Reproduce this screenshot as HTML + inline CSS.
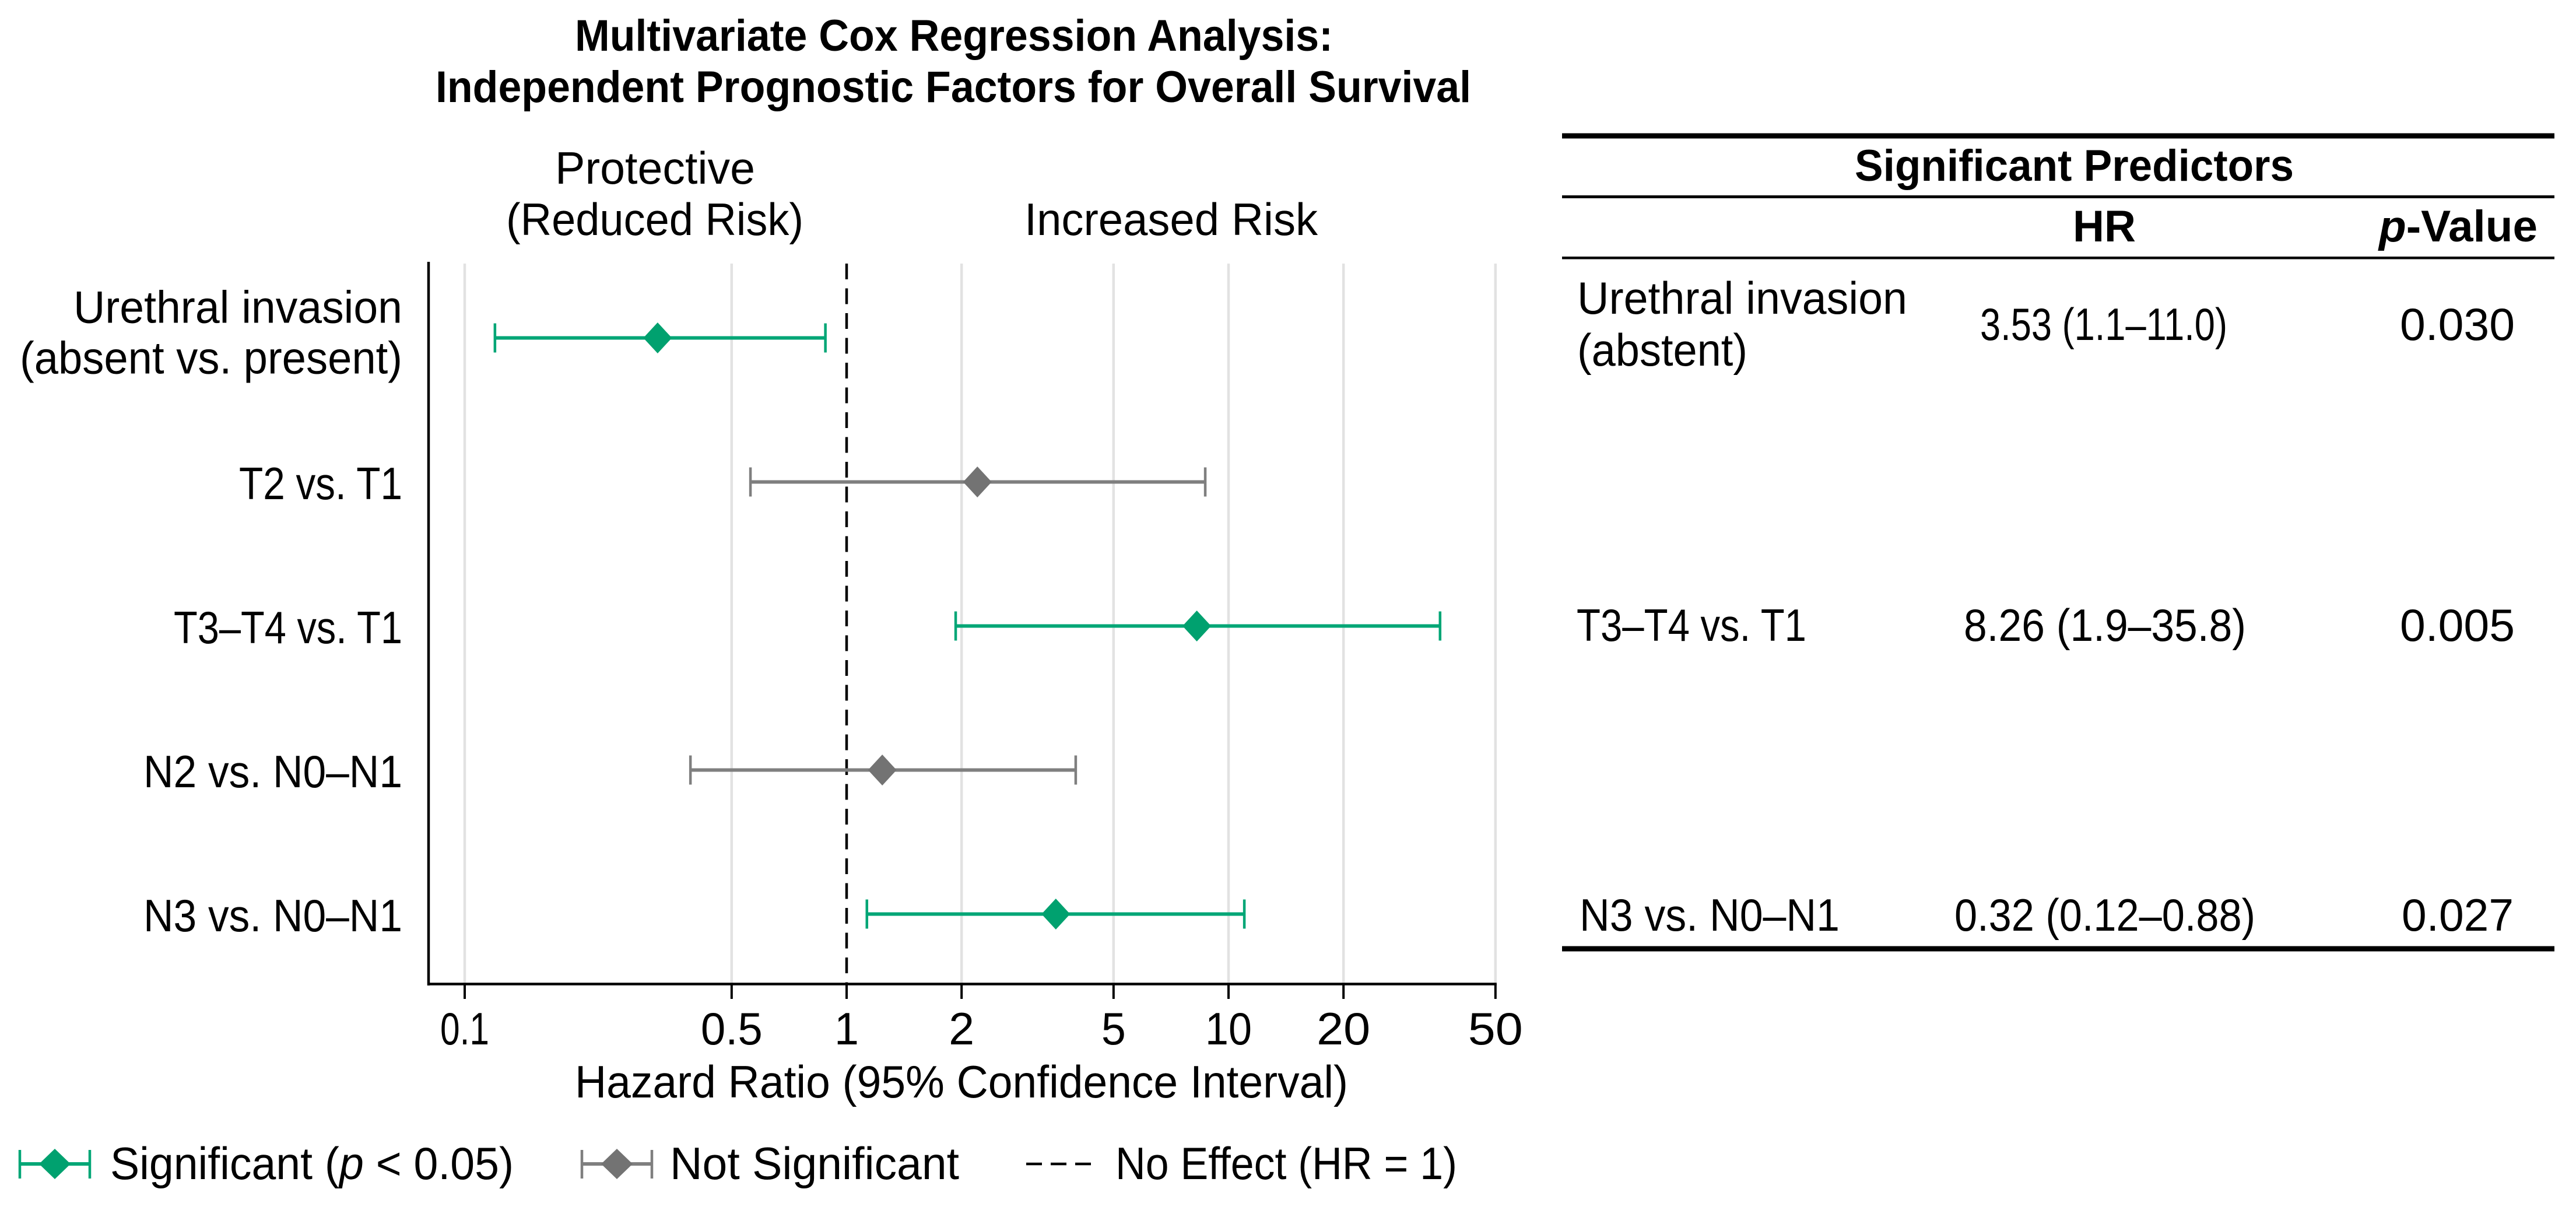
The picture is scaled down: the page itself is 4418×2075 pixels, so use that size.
<!DOCTYPE html>
<html lang="en">
<head>
<meta charset="utf-8">
<title>Multivariate Cox Regression Analysis</title>
<style>
html,body{margin:0;padding:0;background:#fff;width:4418px;height:2075px;overflow:hidden}
svg{display:block}
text{font-family:"Liberation Sans",Arial,sans-serif;fill:#000;font-size:78px;font-kerning:normal}
.b{font-weight:700;font-size:76px}
</style>
</head>
<body>
<svg id="chart" xmlns="http://www.w3.org/2000/svg" width="4418" height="2075" viewBox="0 0 4418 2075">
  <rect x="0" y="0" width="4418" height="2075" fill="#fff"/>
  <text class="b" x="986" y="87" textLength="1300" lengthAdjust="spacingAndGlyphs">Multivariate Cox Regression Analysis:</text>
  <text class="b" x="747" y="175" textLength="1776" lengthAdjust="spacingAndGlyphs">Independent Prognostic Factors for Overall Survival</text>
  <text x="952" y="315" textLength="343" lengthAdjust="spacingAndGlyphs">Protective</text>
  <text x="868" y="403" textLength="510" lengthAdjust="spacingAndGlyphs">(Reduced Risk)</text>
  <text x="1757" y="403" textLength="503" lengthAdjust="spacingAndGlyphs">Increased Risk</text>

  <g id="grid"></g>
  <g id="refline"></g>
  <g id="marks"></g>
  <g id="axes"></g>
  <g id="ylabels"></g>

  <text x="986" y="1882" textLength="1326" lengthAdjust="spacingAndGlyphs">Hazard Ratio (95% Confidence Interval)</text>

  <g>
    <g>
      <line x1="32" y1="1996" x2="156" y2="1996" stroke="#00a676" stroke-width="6"/>
      <line x1="34" y1="1972" x2="34" y2="2021" stroke="#00a676" stroke-width="4.5"/>
      <line x1="154" y1="1972" x2="154" y2="2021" stroke="#00a676" stroke-width="4.5"/>
      <polygon points="94,1970 121,1996 94,2022 67,1996" fill="#00a16f"/>
      <text x="189" y="2022" textLength="692" lengthAdjust="spacingAndGlyphs">Significant (<tspan font-style="italic">p</tspan> &lt; 0.05)</text>
    </g>
    <g>
      <line x1="996" y1="1996" x2="1120" y2="1996" stroke="#7f7f7f" stroke-width="6"/>
      <line x1="998" y1="1972" x2="998" y2="2021" stroke="#7f7f7f" stroke-width="4.5"/>
      <line x1="1118" y1="1972" x2="1118" y2="2021" stroke="#7f7f7f" stroke-width="4.5"/>
      <polygon points="1058,1970 1085,1996 1058,2022 1031,1996" fill="#737373"/>
      <text x="1149" y="2022" textLength="496" lengthAdjust="spacingAndGlyphs">Not Significant</text>
    </g>
    <g>
      <line x1="1760" y1="1996" x2="1885" y2="1996" stroke="#000" stroke-width="4.5" stroke-dasharray="27 15"/>
      <text x="1913" y="2022" textLength="586" lengthAdjust="spacingAndGlyphs">No Effect (HR = 1)</text>
    </g>
  </g>

  <g>
    <rect x="2679" y="228.5" width="1702" height="9" fill="#000"/>
    <rect x="2679" y="335" width="1702" height="5" fill="#000"/>
    <rect x="2679" y="440" width="1702" height="4.5" fill="#000"/>
    <rect x="2679" y="1622.5" width="1702" height="9" fill="#000"/>
    <text class="b" x="3181" y="310" textLength="753" lengthAdjust="spacingAndGlyphs">Significant Predictors</text>
    <text class="b" x="3555" y="414" textLength="108" lengthAdjust="spacingAndGlyphs">HR</text>
    <text class="b" x="4080" y="414" textLength="272" lengthAdjust="spacingAndGlyphs"><tspan font-style="italic">p</tspan>-Value</text>
    <text x="2705" y="538" textLength="566" lengthAdjust="spacingAndGlyphs">Urethral invasion</text>
    <text x="2705" y="627" textLength="292" lengthAdjust="spacingAndGlyphs">(abstent)</text>
    <text x="3396" y="583" textLength="424" lengthAdjust="spacingAndGlyphs">3.53 (1.1–11.0)</text>
    <text x="4116" y="583" textLength="197" lengthAdjust="spacingAndGlyphs">0.030</text>
    <text x="2704" y="1099" textLength="394" lengthAdjust="spacingAndGlyphs">T3–T4 vs. T1</text>
    <text x="3368" y="1099" textLength="484" lengthAdjust="spacingAndGlyphs">8.26 (1.9–35.8)</text>
    <text x="4116" y="1099" textLength="197" lengthAdjust="spacingAndGlyphs">0.005</text>
    <text x="2709" y="1596" textLength="446" lengthAdjust="spacingAndGlyphs">N3 vs. N0–N1</text>
    <text x="3352" y="1596" textLength="516" lengthAdjust="spacingAndGlyphs">0.32 (0.12–0.88)</text>
    <text x="4119" y="1596" textLength="192" lengthAdjust="spacingAndGlyphs">0.027</text>
  </g>
</svg>
<script>
const categories = ["Urethral invasion\n(absent vs. present)", "T2 vs. T1", "T3–T4 vs. T1", "N2 vs. N0–N1", "N3 vs. N0–N1"];
const hazardRatios = [0.32, 2.2, 8.26, 1.24, 3.53];
const ciLower = [0.12, 0.56, 1.93, 0.39, 1.13];
const ciUpper = [0.88, 8.69, 35.8, 3.98, 11.0];
const significant = [true, false, true, false, true];
const tickValues = [0.1, 0.5, 1, 2, 5, 10, 20, 50];
const tickLabels = ["0.1", "0.5", "1", "2", "5", "10", "20", "50"];

const SVGNS = "http://www.w3.org/2000/svg";
function xScale(v) { return 1452 + 655 * Math.log10(v); }
function yScale(i) { return 579.5 + 247 * i; }
function shape(tag, parent, attrs) {
  const el = document.createElementNS(SVGNS, tag);
  for (const k in attrs) el.setAttribute(k, attrs[k]);
  parent.appendChild(el);
  return el;
}
function fitted(label) {
  const widths = {
    "Urethral invasion": 564, "(absent vs. present)": 656, "T2 vs. T1": 280,
    "T3–T4 vs. T1": 392, "N2 vs. N0–N1": 444, "N3 vs. N0–N1": 444,
    "0.1": 84, "0.5": 106, "1": 42, "2": 44, "5": 42, "10": 80, "20": 92, "50": 94
  };
  return widths[label];
}
function drawLabel(parent, str, x, y, anchor) {
  const t = shape("text", parent, { x: x, y: y, "text-anchor": anchor, textLength: fitted(str), lengthAdjust: "spacingAndGlyphs" });
  t.textContent = str;
  return t;
}

const gridG = document.getElementById("grid");
const refG = document.getElementById("refline");
const marksG = document.getElementById("marks");
const axesG = document.getElementById("axes");
const ylabG = document.getElementById("ylabels");

tickValues.forEach(function (v, i) {
  const px = xScale(v);
  if (v !== 1) {
    const g = shape("line", gridG, { x1: px, x2: px, y1: 452, y2: 1687, stroke: "#e2e2e2", "stroke-width": 4.5 });
    
    
  }
});

const ref = shape("line", refG, { x1: xScale(1), x2: xScale(1), y1: 452, y2: 1687, stroke: "#000", "stroke-width": 4.5, "stroke-dasharray": "27 15.5" });



categories.forEach(function (cat, i) {
  const y = yScale(i);
  const lineColor = significant[i] ? "#00a676" : "#7f7f7f";
  const fillColor = significant[i] ? "#00a16f" : "#737373";
  const lo = xScale(ciLower[i]);
  const hi = xScale(ciUpper[i]);
  const mid = xScale(hazardRatios[i]);

  const ciLine = shape("line", marksG, { x1: lo, x2: hi, y1: y, y2: y, stroke: lineColor, "stroke-width": 6 });
  
  

  const capLo = shape("line", marksG, { x1: lo, x2: lo, y1: y - 25, y2: y + 25, stroke: lineColor, "stroke-width": 4.5 });
  
  

  const capHi = shape("line", marksG, { x1: hi, x2: hi, y1: y - 25, y2: y + 25, stroke: lineColor, "stroke-width": 4.5 });
  
  

  const pts = [[mid, y - 26.5], [mid + 24.5, y], [mid, y + 26.5], [mid - 24.5, y]].map(function (p) { return p.join(","); }).join(" ");
  const dia = shape("polygon", marksG, { points: pts, fill: fillColor });
  
  

  const lines = cat.split("\n");
  lines.forEach(function (ln, j) {
    const base = lines.length > 1 ? y - 26 + j * 87 : y + 29.5;
    const t = drawLabel(ylabG, ln, 690, base, "end");
    
    
  });
});

tickValues.forEach(function (v, i) {
  const px = xScale(v);
  const tk = shape("line", axesG, { x1: px, x2: px, y1: 1687, y2: 1713, stroke: "#000", "stroke-width": 4 });
  
  
  const t = drawLabel(axesG, tickLabels[i], px, 1791, "middle");
  
  
});

const spineL = shape("line", axesG, { x1: 735, x2: 735, y1: 449, y2: 1690, stroke: "#000", "stroke-width": 4.5 });



const spineB = shape("line", axesG, { x1: 733, x2: xScale(50) + 2, y1: 1687.5, y2: 1687.5, stroke: "#000", "stroke-width": 4.5 });


</script>
</body>
</html>
